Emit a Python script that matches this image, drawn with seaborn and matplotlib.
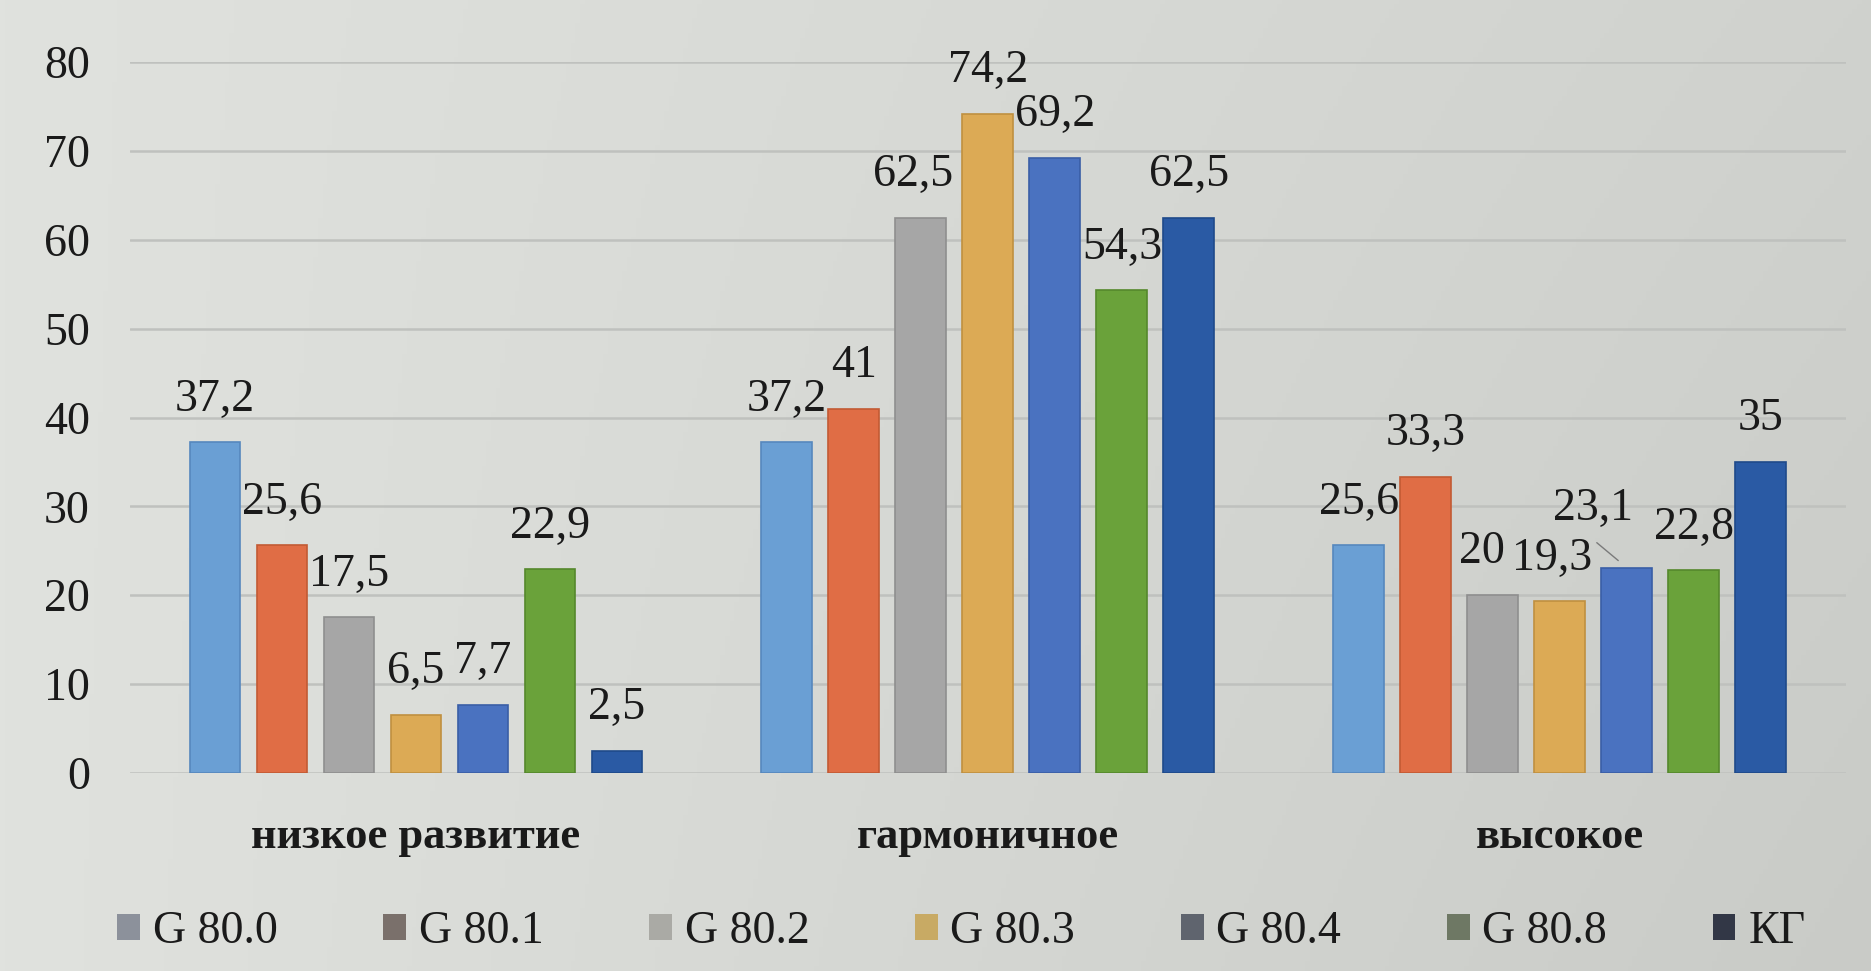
import numpy as np
import pandas as pd
import matplotlib
matplotlib.use("Agg")
import matplotlib.pyplot as plt
import seaborn as sns
from matplotlib.patches import Patch

# --- data -------------------------------------------------------------
categories = ["низкое развитие", "гармоничное", "высокое"]
groups = ["G 80.0", "G 80.1", "G 80.2", "G 80.3", "G 80.4", "G 80.8", "КГ"]

g80_0 = [37.2, 37.2, 25.6]
g80_1 = [25.6, 41.0, 33.3]
g80_2 = [17.5, 62.5, 20.0]
g80_3 = [6.5, 74.2, 19.3]
g80_4 = [7.7, 69.2, 23.1]
g80_8 = [22.9, 54.3, 22.8]
kg = [2.5, 62.5, 35.0]

y_ticks = [0, 10, 20, 30, 40, 50, 60, 70, 80]

# --- styling ----------------------------------------------------------
bar_colors = ["#6a9fd4", "#e06d45", "#a6a6a6", "#dcaa55", "#4a72c0", "#6aa23a", "#2a5aa4"]
edge_colors = ["#5688be", "#c25a34", "#8f8f8f", "#c09040", "#3a5ea6", "#55882c", "#1f4a8a"]
legend_colors = ["#8c919b", "#7a706b", "#aaaaa5", "#c8aa64", "#5f646e", "#6e7864", "#323746"]
text_color = "#1a1a1a"
font = "Liberation Serif"

# label nudges in pixels (dx, dy) for labels moved off their default spot
label_nudge = {
    ("G 80.2", "гармоничное"): (-8, 0),
    ("G 80.2", "высокое"): (-11, 0),
    ("G 80.3", "высокое"): (-8, 0),
    ("G 80.4", "высокое"): (-34, 16),
}
leader_lines = {("G 80.4", "высокое")}

series = [g80_0, g80_1, g80_2, g80_3, g80_4, g80_8, kg]
df = pd.DataFrame(
    [(c, g, v) for g, vals in zip(groups, series) for c, v in zip(categories, vals)],
    columns=["level", "group", "value"],
)

sns.set_theme(style="white")
plt.rcParams["font.family"] = [font, "DejaVu Serif"]

W, H, DPI = 1871, 971, 100
fig = plt.figure(figsize=(W / DPI, H / DPI), dpi=DPI)

# soft paper-like backdrop, a touch darker toward the right
bg = fig.add_axes([0, 0, 1, 1], zorder=-10)
xs = np.linspace(0, 1, 400)
ys = np.linspace(0, 1, 200)
X, Y = np.meshgrid(xs, ys)
shade = 0.07 * X + 0.03 * X * Y
base = np.array([224, 226, 222]) / 255.0
img = np.clip(base[None, None, :] - shade[..., None] * 0.9, 0, 1)
bg.imshow(img, aspect="auto", extent=[0, 1, 0, 1], origin="upper")
bg.set_axis_off()

ax = fig.add_axes([0.0695, 0.204, 0.917, 0.732])
ax.patch.set_alpha(0)

sns.barplot(
    data=df, x="level", y="value", hue="group",
    order=categories, hue_order=groups,
    palette=bar_colors, saturation=1,
    width=0.82, gap=0.24, legend=False, ax=ax,
    err_kws={"linewidth": 0},
)

for container, g, ec in zip(ax.containers, groups, edge_colors):
    for bar, cat in zip(container, categories):
        bar.set_edgecolor(ec)
        bar.set_linewidth(1.2)
        h = bar.get_height()
        cx = bar.get_x() + bar.get_width() / 2
        dx, dy = label_nudge.get((g, cat), (0, 0))
        txt = f"{h:g}".replace(".", ",")
        ax.annotate(
            txt, xy=(cx, h), xycoords="data",
            xytext=(dx, 43 + dy), textcoords="offset pixels",
            ha="center", va="center", fontsize=33, color=text_color,
            family=font, annotation_clip=False,
        )
        if (g, cat) in leader_lines:
            ax.annotate(
                "", xy=(cx, h), xycoords="data",
                xytext=(-30, 25), textcoords="offset pixels",
                arrowprops=dict(arrowstyle="-", color="#7a7a7a", lw=1.0,
                                shrinkA=0, shrinkB=8),
                annotation_clip=False,
            )

ax.set_ylim(0, 80)
ax.set_xlim(-0.5, 2.5)
ax.set_yticks(y_ticks)
ax.set_yticklabels([str(t) for t in y_ticks])
ax.set_xlabel("")
ax.set_ylabel("")
ax.yaxis.grid(True, color="#bfc1be", linewidth=1.8)
ax.set_axisbelow(True)
for s in ax.spines.values():
    s.set_visible(False)
ax.tick_params(axis="y", length=0, pad=29, labelsize=33, labelcolor=text_color)
ax.tick_params(axis="x", length=0, pad=32, labelsize=32, labelcolor=text_color)
for lbl in ax.get_xticklabels():
    lbl.set_fontweight("bold")

handles = [Patch(facecolor=c, edgecolor="none") for c in legend_colors]
fig.legend(
    handles, groups, loc="center", bbox_to_anchor=(0.5137, 0.040),
    ncol=7, frameon=False, fontsize=33,
    handlelength=0.5, handleheight=0.5, handletextpad=0.28,
    columnspacing=2.3, labelcolor=text_color,
)

fig.savefig("out.png", dpi=DPI)
